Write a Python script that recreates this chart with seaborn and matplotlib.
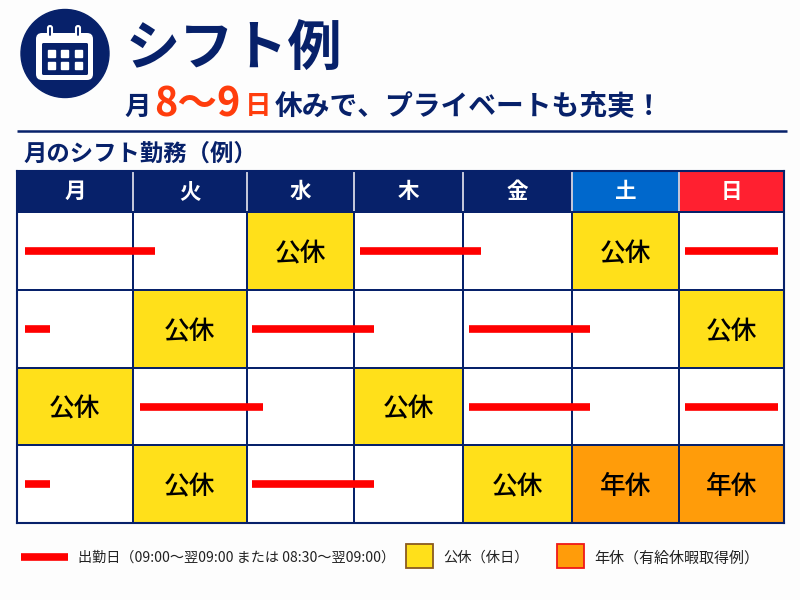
import numpy as np
import matplotlib
matplotlib.use("Agg")
import matplotlib.pyplot as plt
from matplotlib.colors import ListedColormap
from matplotlib.patches import Circle, FancyBboxPatch, Rectangle
import seaborn as sns

# Data

days = ["月", "火", "水", "木", "金", "土", "日"]

# 0 work, 1 public holiday, 2 annual leave, 3 navy head, 4 blue head, 5 red head
shift_codes = [
    [3, 3, 3, 3, 3, 4, 5],
    [0, 0, 1, 0, 0, 1, 0],
    [0, 1, 0, 0, 0, 0, 1],
    [1, 0, 0, 1, 0, 0, 0],
    [0, 1, 0, 0, 1, 2, 2],
]

# work bars: week row, start and end, in days from Monday
bar_rows = [1, 1, 1, 2, 2, 2, 3, 3, 3, 4, 4]
bar_starts = [0.07, 3.055, 6.057, 0.07, 2.047, 4.055, 1.06, 4.055, 6.057, 0.07, 2.047]
bar_ends = [1.19, 4.165, 6.943, 0.285, 3.185, 5.168, 2.15, 5.168, 6.943, 0.285, 3.185]

labels = {0: "", 1: "公休", 2: "年休"}

# Colours and layout

navy = "#07216a"
blue = "#0068cc"
red_head = "#ff2030"
yellow = "#ffe01a"
orange = "#ff9c0a"
red = "#ff0000"
orange_red = "#ff3d0d"

col_px = [17, 133, 247, 354, 463, 572, 679, 784]
row_px = [171, 212, 290, 368, 445, 523]

sns.set_theme(style="white")
plt.rcParams["font.family"] = ["Noto Sans CJK JP", "DejaVu Sans"]

fig = plt.figure(figsize=(8, 6), dpi=100, facecolor="#fdfdfd")

# Page axes in pixels

page = fig.add_axes([0, 0, 1, 1])
page.set_xlim(0, 800)
page.set_ylim(600, 0)
page.axis("off")

# Calendar icon

page.add_patch(Circle((65, 53.5), 44, color=navy))
page.add_patch(FancyBboxPatch((36, 33), 57, 47, boxstyle="round,pad=0,rounding_size=6",
                              fc="white", ec="none"))
page.add_patch(FancyBboxPatch((42, 43), 46, 32, boxstyle="round,pad=0,rounding_size=1.5",
                              fc=navy, ec="none"))
for x in [48, 76]:
    page.add_patch(FancyBboxPatch((x, 26), 4, 11, boxstyle="round,pad=0,rounding_size=2",
                                  fc=navy, ec="white", lw=1.5))
for x in [47.5, 61, 75]:
    for y in [49.5, 62]:
        page.add_patch(Rectangle((x, y), 7, 7, color="white"))

# Titles

page.text(126, 49, "シフト例", fontsize=39, fontweight="bold", color=navy, va="center", ha="left")
page.text(124, 107, "月", fontsize=19, fontweight="bold", color=navy, va="center", ha="left")
page.text(154, 105, "8〜9", fontsize=28.5, fontweight="bold", color=orange_red, va="center", ha="left")
page.text(245, 107, "日", fontsize=19, fontweight="bold", color=orange_red, va="center", ha="left")
page.text(275, 107, "休みで、プライベートも充実！", fontsize=20, fontweight="bold", color=navy,
          va="center", ha="left")
page.plot([17, 787], [131, 131], color=navy, lw=1.8, solid_capstyle="butt")
page.text(24, 154, "月のシフト勤務（例）", fontsize=16.8, fontweight="bold", color=navy, va="center", ha="left")

# Shift table

table = fig.add_axes([col_px[0] / 800, 1 - row_px[-1] / 600,
                      (col_px[-1] - col_px[0]) / 800, (row_px[-1] - row_px[0]) / 600])

codes = np.array(shift_codes)
annot = [days] + [[labels[c] for c in row] for row in shift_codes[1:]]

sns.heatmap(
    codes,
    ax=table,
    cmap=ListedColormap(["white", yellow, orange, navy, blue, red_head]),
    vmin=0,
    vmax=5,
    cbar=False,
    annot=np.array(annot),
    fmt="",
    linewidths=1.1,
    linecolor=navy,
    xticklabels=False,
    yticklabels=False,
)

# Columns and rows are not equal in width, so map the cell index to pixels

col_idx = np.arange(len(col_px), dtype=float)
row_idx = np.arange(len(row_px), dtype=float)
col_pos = np.array(col_px, dtype=float)
row_pos = np.array(row_px, dtype=float)
table.set_xscale("function", functions=(lambda v: np.interp(v, col_idx, col_pos),
                                        lambda v: np.interp(v, col_pos, col_idx)))
table.set_yscale("function", functions=(lambda v: np.interp(v, row_idx, row_pos),
                                        lambda v: np.interp(v, row_pos, row_idx)))
table.set_xlim(0, 7)
table.set_ylim(5, 0)
table.minorticks_off()
table.tick_params(which="both", length=0, labelbottom=False, labelleft=False)

for t in table.texts:
    is_head = t.get_text() in days
    t.set_fontsize(15.5 if is_head else 18.5)
    t.set_fontweight("bold" if is_head else "medium")
    t.set_color("white" if is_head else "black")
    if not is_head:
        x, y = t.get_position()
        t.set_position((x, y + 0.035))

table.vlines(np.arange(1, 7), 0.03, 0.97, color="#e8e8f0", lw=1.2)

for r, s, e in zip(bar_rows, bar_starts, bar_ends):
    table.plot([s, e], [r + 0.5, r + 0.5], color=red, lw=5.5, solid_capstyle="butt")

for side in table.spines.values():
    side.set_visible(True)
    side.set_color(navy)
    side.set_linewidth(1.5)

# Legend

page.plot([21, 68], [557, 557], color=red, lw=5.5, solid_capstyle="butt")
page.text(78, 558, "出勤日（09:00〜翌09:00 または 08:30〜翌09:00）", fontsize=10.15, color="#222222",
          va="center", ha="left")
page.add_patch(Rectangle((406, 544), 27, 24, fc=yellow, ec="#8a5a20", lw=1.3))
page.text(443, 558, "公休（休日）", fontsize=10.3, color="#222222", va="center", ha="left")
page.add_patch(Rectangle((557, 544), 27, 24, fc=orange, ec="#f01818", lw=1.3))
page.text(594, 558, "年休（有給休暇取得例）", fontsize=10.8, color="#222222", va="center", ha="left")

fig.savefig("out.png", dpi=100, facecolor=fig.get_facecolor())
